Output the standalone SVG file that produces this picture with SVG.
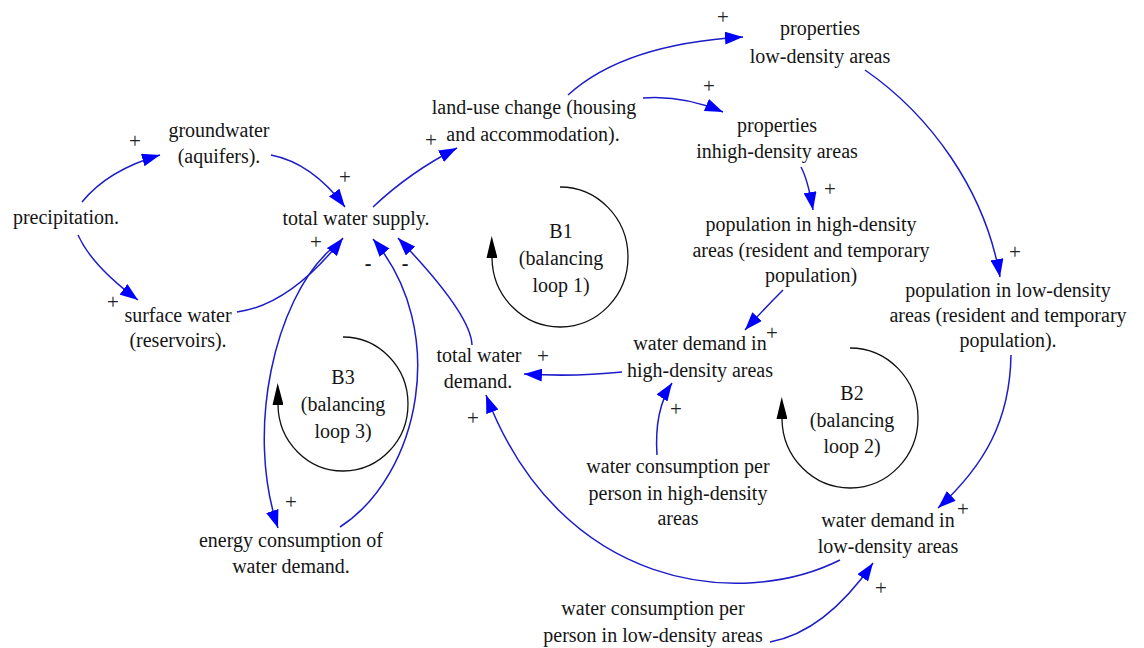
<svg xmlns="http://www.w3.org/2000/svg" width="1144" height="648" viewBox="0 0 1144 648">
  <style>
    text { font-family: "Liberation Serif", "Times New Roman", serif; fill: #151515; }
    .lbl { font-size: 20px; text-anchor: middle; }
    .sign { font-size: 21px; text-anchor: middle; fill: #222; }
    .neg { font-size: 20px; font-weight: bold; text-anchor: middle; }
    .link { fill: none; stroke: #1c1cc8; stroke-width: 1.5; marker-end: url(#arr); }
    .loop { fill: none; stroke: #111; stroke-width: 1.3; marker-end: url(#loopArr); }
  </style>
  <defs>
    <marker id="arr" viewBox="0 0 18 13" refX="18" refY="6.5" markerWidth="18" markerHeight="13" markerUnits="userSpaceOnUse" orient="auto">
      <path d="M0,0 L18,6.5 L0,13 z" fill="#0000ff"/>
    </marker>
    <marker id="loopArr" viewBox="0 0 22 11" refX="0" refY="5.5" markerWidth="22" markerHeight="11" markerUnits="userSpaceOnUse" orient="auto">
      <path d="M0,0 L22,5.5 L0,11 z" fill="#000"/>
    </marker>
  </defs>
  <rect width="1144" height="648" fill="#fff"/>

  <!-- causal links -->
  <g id="connectors">
    <path class="link" d="M82,202 Q108,170 160,155"/>
    <path class="link" d="M78,235 Q92,266 138,300"/>
    <path class="link" d="M271,155 Q312,163 345,207"/>
    <path class="link" d="M237,312 Q290,305 343,238"/>
    <path class="link" d="M330,250 C275,300 245,430 278,528"/>
    <path class="link" d="M340,527 C420,475 450,330 373,239"/>
    <path class="link" d="M472,345 Q471,314 398,238"/>
    <path class="link" d="M373,207 Q410,172 457,148"/>
    <path class="link" d="M568,95 Q624,44 743,37"/>
    <path class="link" d="M643,98 Q683,95 723,112"/>
    <path class="link" d="M801,167 Q808,180 813,210"/>
    <path class="link" d="M865,70 C930,115 985,190 1000,277"/>
    <path class="link" d="M783,290 Q765,308 745,330"/>
    <path class="link" d="M1011,355 C1010,420 985,465 938,508"/>
    <path class="link" d="M622,372 Q575,377 524,374"/>
    <path class="link" d="M657,455 Q654,410 672,383"/>
    <path class="link" d="M840,560 C740,610 560,590 486,395"/>
    <path class="link" d="M770,642 Q825,632 873,563"/>
  </g>

  <!-- link polarities -->
  <g id="polarities">
    <text class="sign" x="135" y="148">+</text>
    <text class="sign" x="345" y="184">+</text>
    <text class="sign" x="316" y="249">+</text>
    <text class="sign" x="113" y="309">+</text>
    <text class="sign" x="431" y="147">+</text>
    <text class="sign" x="723" y="24">+</text>
    <text class="sign" x="709" y="93">+</text>
    <text class="sign" x="830" y="196">+</text>
    <text class="sign" x="1015" y="259">+</text>
    <text class="sign" x="772" y="340">+</text>
    <text class="sign" x="543" y="363">+</text>
    <text class="sign" x="676" y="416">+</text>
    <text class="sign" x="473" y="425">+</text>
    <text class="sign" x="963" y="516">+</text>
    <text class="sign" x="881" y="595">+</text>
    <text class="sign" x="291" y="509">+</text>
    <text class="neg" x="368" y="270">-</text>
    <text class="neg" x="405" y="270">-</text>
  </g>

  <!-- feedback loops -->
  <g id="loop-B1">
    <path class="loop" d="M560,187 A68,70 0 1 1 492,258"/>
    <text class="lbl" x="561" y="238">B1</text>
    <text class="lbl" x="561" y="265">(balancing</text>
    <text class="lbl" x="561" y="292">loop 1)</text>
  </g>
  <g id="loop-B2">
    <path class="loop" d="M850,348 A68,70 0 1 1 782,419"/>
    <text class="lbl" x="852" y="400">B2</text>
    <text class="lbl" x="852" y="427">(balancing</text>
    <text class="lbl" x="852" y="453">loop 2)</text>
  </g>
  <g id="loop-B3">
    <path class="loop" d="M343,337 A65,67 0 1 1 278,405"/>
    <text class="lbl" x="343" y="384">B3</text>
    <text class="lbl" x="343" y="411">(balancing</text>
    <text class="lbl" x="343" y="438">loop 3)</text>
  </g>

  <!-- variables -->
  <g id="precipitation">
    <text class="lbl" x="66" y="224">precipitation.</text>
  </g>
  <g id="groundwater">
    <text class="lbl" x="219" y="137">groundwater</text>
    <text class="lbl" x="219" y="163">(aquifers).</text>
  </g>
  <g id="surface-water">
    <text class="lbl" x="178" y="322">surface water</text>
    <text class="lbl" x="178" y="347">(reservoirs).</text>
  </g>
  <g id="total-water-supply">
    <text class="lbl" x="356" y="225">total water supply.</text>
  </g>
  <g id="land-use-change">
    <text class="lbl" x="534" y="114">land-use change (housing</text>
    <text class="lbl" x="533" y="141">and accommodation).</text>
  </g>
  <g id="properties-low">
    <text class="lbl" x="820" y="35">properties</text>
    <text class="lbl" x="820" y="63">low-density areas</text>
  </g>
  <g id="properties-high">
    <text class="lbl" x="777" y="132">properties</text>
    <text class="lbl" x="777" y="158">inhigh-density areas</text>
  </g>
  <g id="population-high">
    <text class="lbl" x="811" y="231">population in high-density</text>
    <text class="lbl" x="811" y="257">areas (resident and temporary</text>
    <text class="lbl" x="811" y="282">population)</text>
  </g>
  <g id="population-low">
    <text class="lbl" x="1008" y="297">population in low-density</text>
    <text class="lbl" x="1008" y="322">areas (resident and temporary</text>
    <text class="lbl" x="1008" y="347">population).</text>
  </g>
  <g id="water-demand-high">
    <text class="lbl" x="700" y="350">water demand in</text>
    <text class="lbl" x="700" y="377">high-density areas</text>
  </g>
  <g id="total-water-demand">
    <text class="lbl" x="479" y="362">total water</text>
    <text class="lbl" x="478" y="388">demand.</text>
  </g>
  <g id="consumption-high">
    <text class="lbl" x="678" y="473">water consumption per</text>
    <text class="lbl" x="678" y="500">person in high-density</text>
    <text class="lbl" x="678" y="525">areas</text>
  </g>
  <g id="water-demand-low">
    <text class="lbl" x="888" y="527">water demand in</text>
    <text class="lbl" x="888" y="553">low-density areas</text>
  </g>
  <g id="consumption-low">
    <text class="lbl" x="653" y="615">water consumption per</text>
    <text class="lbl" x="653" y="642">person in low-density areas</text>
  </g>
  <g id="energy-consumption">
    <text class="lbl" x="291" y="547">energy consumption of</text>
    <text class="lbl" x="291" y="573">water demand.</text>
  </g>
</svg>
